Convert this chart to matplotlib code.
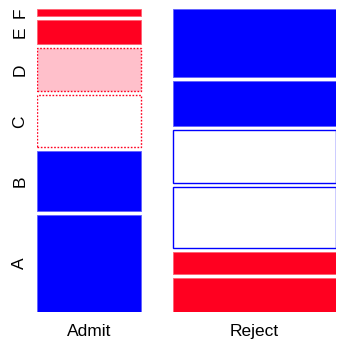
import numpy as np
import matplotlib
matplotlib.use("Agg")
import matplotlib.pyplot as plt
from matplotlib.patches import Rectangle

# UCB admissions, summed over gender
depts = ["A", "B", "C", "D", "E", "F"]
outcomes = ["Admit", "Reject"]
admit = [601, 370, 322, 269, 147, 46]
reject = [332, 215, 596, 523, 437, 668]

counts = np.array([admit, reject], dtype=float)  # rows: outcome, cols: dept
total = counts.sum()
col_tot = counts.sum(axis=1)
dept_tot = counts.sum(axis=0)
expected = np.outer(col_tot, dept_tot) / total
resid = (counts - expected) / np.sqrt(expected)

red = "#FF0020"
blue = "#0000FF"
pink = "#FFC0CB"


def shade(r):
    if r > 4:
        return blue
    if r > 2:
        return "#8080FF"
    if r > -2:
        return "white"
    if r > -4:
        return pink
    return red


gap_x = 0.12
gap_y = 0.0141

plt.rcParams["font.family"] = ["Liberation Sans", "DejaVu Sans"]
fig = plt.figure(figsize=(3.41, 3.43), dpi=100)
ax = fig.add_axes([37 / 341, 31 / 343, 299 / 341, 303 / 343])
ax.set_xlim(0, 1 + gap_x)
ax.set_ylim(0, 1 + gap_y * (len(depts) - 1))
ax.axis("off")

x0 = 0.0
for i, name in enumerate(outcomes):
    w = col_tot[i] / total
    y0 = 0.0
    for j, d in enumerate(depts):
        h = counts[i, j] / col_tot[i]
        r = resid[i, j]
        fc = shade(r)
        if r >= 0:
            ec, ls, lw = blue, "-", 1.0
        elif fc == red:
            ec, ls, lw = "#FF6070", "-", 0.6
        else:
            ec, ls, lw = red, (0, (1.2, 1.2)), 1.0
        if fc == blue:
            ec, lw = "#6060FF", 0.6
        ax.add_patch(Rectangle((x0, y0), w, h, facecolor=fc,
                               edgecolor=ec, linewidth=lw, linestyle=ls))
        if i == 0:
            ax.text(-0.065, y0 + h / 2, d, rotation=90, ha="center",
                    va="center", fontsize=12.5, clip_on=False)
        y0 += h + gap_y
    ax.text(x0 + w / 2, -0.068, name, ha="center", va="center",
            fontsize=12.5, clip_on=False)
    x0 += w + gap_x

fig.savefig("out.png", dpi=100)
